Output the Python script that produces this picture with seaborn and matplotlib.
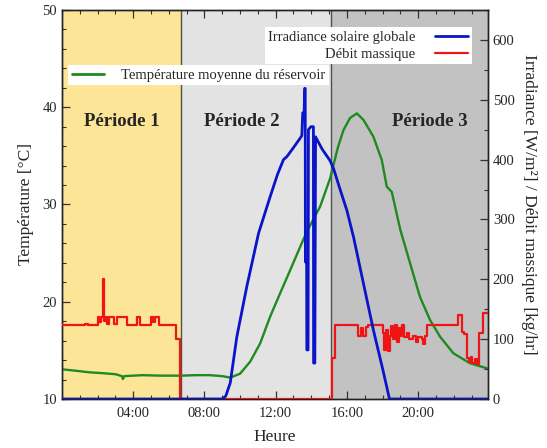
import numpy as np
import pandas as pd
import matplotlib
matplotlib.use("Agg")
import matplotlib.pyplot as plt
from matplotlib.lines import Line2D
from matplotlib.ticker import MultipleLocator, FixedLocator
import seaborn as sns

# ---------------- data ----------------
# Mean tank temperature [°C] (left axis)
temp_h = [0.0, 0.8, 1.5, 2.3, 3.0, 3.37, 3.42, 3.5, 4.5, 5.5, 6.7, 7.5, 8.3, 9.0, 9.45,
          10.0, 10.57, 11.13, 11.69, 12.25, 12.82, 13.38, 13.75, 14.5, 15.06, 15.5,
          15.81, 16.18, 16.56, 16.93, 17.49, 17.96, 18.24, 18.52, 19.0, 19.55, 20.1,
          20.67, 21.23, 21.98, 22.92, 23.86]
temp_v = [13.05, 12.9, 12.75, 12.65, 12.55, 12.35, 12.05, 12.35, 12.45, 12.4, 12.4, 12.45,
          12.45, 12.35, 12.2, 12.6, 13.84, 15.72, 18.47, 20.87, 23.27, 25.66, 27.2, 29.8,
          32.7, 35.9, 37.66, 38.9, 39.37, 38.7, 36.97, 34.57, 31.83, 31.3, 27.4, 23.95,
          20.52, 18.12, 16.41, 14.7, 13.67, 13.16]

# Global solar irradiance [W/m²] (right axis)
irr_h = [0.0, 9.0, 9.2, 9.45, 9.82, 10.38, 11.04, 11.69, 12.1, 12.44, 12.63, 13.0, 13.38,
         13.47, 13.52, 13.6, 13.63, 13.66, 13.67, 13.74, 13.75, 13.82, 13.84, 13.98,
         14.12, 14.13, 14.2, 14.24, 14.35, 14.6, 15.06, 15.25, 15.62, 16.0, 16.37,
         16.93, 17.49, 18.05, 18.39, 23.92]
irr_v = [0, 0, 5, 27, 104, 188, 277, 338, 375, 400, 405, 420, 436,
         440, 478, 480, 519, 519, 229, 229, 82, 82, 450, 455,
         455, 60, 60, 438, 432, 418, 398, 385, 350, 315, 271,
         193, 115, 45, 0, 0]

# Mass flow rate [kg/hr] (right axis), step data
flow_h = [0.0, 1.3, 1.45, 2.0, 2.1, 2.2, 2.3, 2.36, 2.45, 2.55, 2.65, 2.9, 3.1, 3.65,
          4.22, 4.4, 5.0, 5.1, 5.2, 5.45, 6.4, 6.62, 15.18, 15.33,
          16.65, 16.8, 16.9, 17.05, 17.2,
          18.05, 18.1, 18.2, 18.3, 18.4, 18.5, 18.6, 18.7, 18.8, 18.9, 19.0, 19.1,
          19.2, 19.35, 19.5, 19.7, 19.9, 20.0, 20.2, 20.3, 20.4, 20.5,
          22.25, 22.45, 22.6, 22.74, 22.85, 22.95, 23.05, 23.2, 23.3, 23.4, 23.67, 23.92]
flow_v = [123, 126, 123, 137, 128, 137, 200, 130, 137, 126, 137, 126, 137, 123,
          137, 123, 137, 128, 137, 123, 100, 0, 68, 124,
          106, 118, 106, 120, 124,
          110, 82, 115, 80, 105, 122, 100, 124, 95, 118, 105, 123,
          104, 110, 100, 106, 96, 104, 101, 92, 105, 124,
          140, 112, 108, 68, 62, 70, 60, 66, 58, 110, 143, 143]

x_major = [4, 8, 12, 16, 20]
x_labels = ["04:00", "08:00", "12:00", "16:00", "20:00"]
periods = [(0.0, 6.68), (6.68, 15.12), (15.12, 23.92)]
period_names = ["Période 1", "Période 2", "Période 3"]
period_label_x = [3.38, 10.1, 20.68]

df_t = pd.DataFrame({"h": temp_h, "v": temp_v})
df_i = pd.DataFrame({"h": irr_h, "v": irr_v})
df_f = pd.DataFrame({"h": flow_h, "v": flow_v})

# ---------------- style ----------------
sns.set_style("ticks")
plt.rcParams["font.family"] = ["Liberation Serif", "DejaVu Serif"]
plt.rcParams["mathtext.fontset"] = "stix"

c_green = "#1f8a1f"
c_blue = "#0a14c8"
c_red = "#f01414"
span_cols = ["#fce596", "#e3e3e3", "#c2c2c2"]

fig = plt.figure(figsize=(5.47, 4.48), dpi=100)
ax = fig.add_axes([0.1133, 0.1094, 0.7787, 0.8683])
ax2 = ax.twinx()

for (a, b), c in zip(periods, span_cols):
    ax.axvspan(a, b, color=c, lw=0, zorder=0)
for a in [periods[1][0], periods[2][0]]:
    ax.axvline(a, color="#505050", lw=1.0, zorder=1)

for name, xp in zip(period_names, period_label_x):
    ax.text(xp, 38.5, name, ha="center", va="center", fontsize=13.5,
            fontweight="bold", zorder=3)

sns.lineplot(data=df_t, x="h", y="v", ax=ax, color=c_green, lw=1.7,
             estimator=None, sort=False, legend=False, zorder=4)
sns.lineplot(data=df_f, x="h", y="v", ax=ax2, color=c_red, lw=1.6,
             estimator=None, sort=False, legend=False, drawstyle="steps-post",
             zorder=3)
sns.lineplot(data=df_i, x="h", y="v", ax=ax2, color=c_blue, lw=2.0,
             estimator=None, sort=False, legend=False, zorder=4)

ax.set_xlim(0, 23.92)
ax.set_ylim(10, 50)
ax2.set_ylim(0, 650)

ax.xaxis.set_major_locator(FixedLocator(x_major))
ax.set_xticklabels(x_labels)
ax.xaxis.set_minor_locator(MultipleLocator(1))
ax.yaxis.set_major_locator(MultipleLocator(10))
ax.yaxis.set_minor_locator(MultipleLocator(2))
ax2.yaxis.set_major_locator(FixedLocator([0, 100, 200, 300, 400, 500, 600]))
ax2.yaxis.set_minor_locator(MultipleLocator(50))

ax.tick_params(axis="x", which="both", direction="in", top=True, bottom=True,
               labelsize=10.5, pad=6)
ax.tick_params(axis="y", which="both", direction="in", left=True, right=False,
               labelsize=10.5)
ax2.tick_params(axis="y", which="both", direction="in", right=True, left=False,
                labelsize=10.5)
for a_ in (ax, ax2):
    a_.tick_params(which="major", length=6, width=0.9, color="#333333")
    a_.tick_params(which="minor", length=3, width=0.8, color="#333333")
    for s in a_.spines.values():
        s.set_color("#222222")
        s.set_linewidth(1.0)

ax.set_xlabel("Heure", fontsize=12.5, labelpad=6)
ax.set_ylabel("Température [°C]", fontsize=12.5, labelpad=6)
ax2.set_ylabel("Irradiance [W/m²] / Débit massique [kg/hr]", fontsize=12.5,
               rotation=-90, labelpad=16)

h_irr = Line2D([], [], color=c_blue, lw=2.0)
h_flow = Line2D([], [], color=c_red, lw=1.6)
h_temp = Line2D([], [], color=c_green, lw=2.0)

leg1 = ax2.legend([h_irr, h_flow], ["Irradiance solaire globale", "Débit massique"],
                  loc="upper right", bbox_to_anchor=(0.962, 0.956), borderaxespad=0,
                  markerfirst=False, frameon=True, fancybox=False, framealpha=1,
                  edgecolor="white", fontsize=10.5, handlelength=2.3,
                  handletextpad=1.3, labelspacing=0.25, borderpad=0.25)
leg1.get_frame().set_linewidth(0)
ax2.add_artist(leg1)
leg2 = ax2.legend([h_temp], ["Température moyenne du réservoir"],
                  loc="upper left", bbox_to_anchor=(0.014, 0.859), borderaxespad=0,
                  frameon=True, fancybox=False, framealpha=1, edgecolor="white",
                  fontsize=10.5, handlelength=2.2, handletextpad=1.2, borderpad=0.25)
leg2.get_frame().set_linewidth(0)
for t in leg1.get_texts():
    t.set_ha("right")

fig.savefig("out.png", dpi=100)
